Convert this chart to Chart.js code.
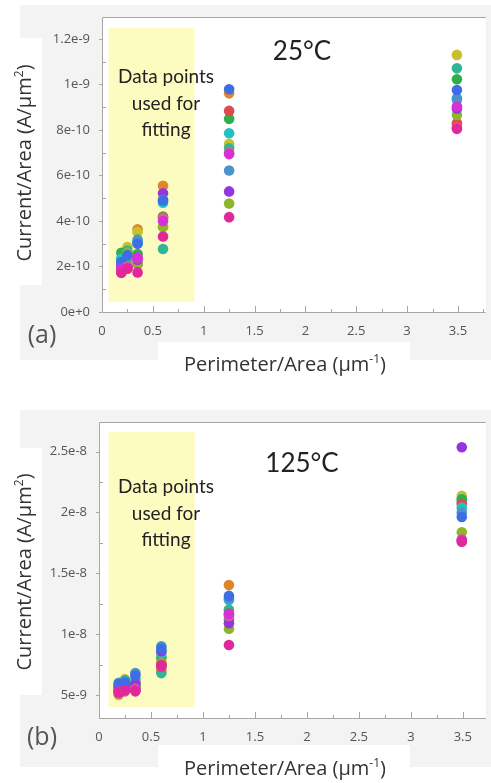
<!DOCTYPE html>
<html>
<head>
<meta charset="utf-8">
<script src="https://cdn.jsdelivr.net/npm/chart.js@4.4.1/dist/chart.umd.min.js"></script>
<style>
  html, body { margin: 0; padding: 0; background: #fff; }
  #page { position: relative; width: 491px; height: 783px; overflow: hidden; }
  .panel { position: absolute; left: 0; width: 491px; }
  .shade { position: absolute; background: #f3f3f3; }
  .whitebox { position: absolute; background: #fff; }
  .panel canvas { position: absolute; left: 0; top: 0; }
  .txt { position: absolute; transform: translate(-50%, -50%); white-space: nowrap; }
  .temp { font-family: Lato, sans-serif; font-size: 26px; color: #222; }
  .fit { font-family: Lato, sans-serif; font-size: 19px; line-height: 26.5px; color: #222; text-align: center; }
  .axtitle { font-family: "Open Sans", sans-serif; font-size: 20px; color: #333; }
  .ytitle { transform: translate(-50%, -50%) rotate(-90deg); }
  .tag { font-family: "Open Sans", sans-serif; font-size: 25px; color: #555; }
  .sup { font-size: 0.6em; position: relative; top: -0.65em; }
</style>
</head>
<body>
<div id="page">
  <div class="panel" style="top:0; height:390px;">
    <div class="shade" style="left:20px; top:5px; width:471px; height:355px;"></div>
    <div class="whitebox" style="left:0; top:38px; width:42px; height:247px;"></div>
    <div class="whitebox" style="left:158px; top:342px; width:252px; height:48px;"></div>
    <canvas id="chartA" width="491" height="390"></canvas>
    <div class="txt temp" style="left:302px; top:50px;">25°C</div>
    <div class="txt fit" style="left:166px; top:103px;">Data points<br>used for<br>fitting</div>
    <div class="txt axtitle ytitle" style="left:23px; top:163px;">Current/Area (A/µm<span class="sup">2</span>)</div>
    <div class="txt axtitle" style="left:285px; top:363px;">Perimeter/Area (µm<span class="sup">-1</span>)</div>
    <div class="txt tag" style="left:42px; top:333px;">(a)</div>
  </div>
  <div class="panel" style="top:390px; height:393px;">
    <div class="shade" style="left:20px; top:20px; width:471px; height:357px;"></div>
    <div class="whitebox" style="left:0; top:58px; width:42px; height:247px;"></div>
    <div class="whitebox" style="left:158px; top:355px; width:252px; height:38px;"></div>
    <canvas id="chartB" width="491" height="393"></canvas>
    <div class="txt temp" style="left:302px; top:72px;">125°C</div>
    <div class="txt fit" style="left:166px; top:123px;">Data points<br>used for<br>fitting</div>
    <div class="txt axtitle ytitle" style="left:23px; top:182px;">Current/Area (A/µm<span class="sup">2</span>)</div>
    <div class="txt axtitle" style="left:285px; top:377px;">Perimeter/Area (µm<span class="sup">-1</span>)</div>
    <div class="txt tag" style="left:42px; top:345px;">(b)</div>
  </div>
</div>
<script>
/* ---- data ---- */
// perimeter/area of the test structures (um^-1)
const perimArea = [0.19, 0.25, 0.35, 0.6, 1.25, 3.49];

// current/area (A/um^2) per device, 25 C then 125 C
const orange25   = [2.05e-10, 2.3e-10, 3.64e-10, 5.55e-10, 9.61e-10, 8.22e-10];
const orange125  = [5.3e-9, 5.7e-9, 6.1e-9, 7.0e-9, 1.404e-8, 2.08e-8];
const yellow25   = [2.0e-10, 2.86e-10, 3.51e-10, 3.72e-10, 7.39e-10, 1.13e-9];
const yellow125  = [5.0e-9, 6.3e-9, 5.8e-9, 7.9e-9, 1.199e-8, 2.136e-8];
const teal25     = [2.3e-10, 2.7e-10, 3.06e-10, 2.77e-10, 7.2e-10, 1.071e-9];
const teal125    = [5.5e-9, 5.9e-9, 5.7e-9, 6.8e-9, 1.2e-8, 2.11e-8];
const green25    = [2.6e-10, 2.45e-10, 2.55e-10, 4.2e-10, 8.49e-10, 1.023e-9];
const green125   = [5.6e-9, 6.0e-9, 5.9e-9, 8.1e-9, 1.12e-8, 2.103e-8];
const red25      = [1.85e-10, 1.95e-10, 2.1e-10, 4.15e-10, 8.84e-10, 8.3e-10];
const red125     = [5.4e-9, 5.5e-9, 5.6e-9, 7.3e-9, 1.17e-8, 2.07e-8];
const cyan25     = [2.35e-10, 2.4e-10, 3.1e-10, 4.8e-10, 7.86e-10, 9.32e-10];
const cyan125    = [5.8e-9, 6.1e-9, 6.3e-9, 8.4e-9, 1.281e-8, 2.04e-8];
const lime25     = [2.1e-10, 2.6e-10, 2.1e-10, 3.75e-10, 4.77e-10, 8.66e-10];
const lime125    = [5.2e-9, 5.8e-9, 5.5e-9, 7.6e-9, 1.045e-8, 1.837e-8];
const purple25   = [2.05e-10, 2.0e-10, 2.3e-10, 5.22e-10, 5.3e-10, 8.95e-10];
const purple125  = [5.7e-9, 5.6e-9, 5.9e-9, 8.6e-9, 1.089e-8, 2.536e-8];
const steel25    = [2.15e-10, 2.48e-10, 3.18e-10, 4.93e-10, 6.22e-10, 9.4e-10];
const steel125   = [6.0e-9, 6.2e-9, 6.8e-9, 9.0e-9, 1.29e-8, 2.0e-8];
const blue25     = [2.2e-10, 2.5e-10, 3.0e-10, 4.9e-10, 9.79e-10, 9.76e-10];
const blue125    = [5.9e-9, 6.0e-9, 6.6e-9, 8.8e-9, 1.314e-8, 1.963e-8];
const rose25     = [1.74e-10, 2.0e-10, 2.37e-10, 4.13e-10, 7.0e-10, 8.1e-10];
const rose125    = [5.1e-9, 5.3e-9, 5.5e-9, 7.5e-9, 1.15e-8, 1.78e-8];
const magenta25  = [1.9e-10, 1.93e-10, 2.4e-10, 4.0e-10, 6.94e-10, 9.03e-10];
const magenta125 = [5.3e-9, 5.4e-9, 5.4e-9, 7.4e-9, 1.163e-8, 1.77e-8];
const pink25     = [1.72e-10, 1.9e-10, 1.74e-10, 3.32e-10, 4.17e-10, 8.05e-10];
const pink125    = [5.2e-9, 5.4e-9, 5.3e-9, 7.45e-9, 9.11e-9, 1.76e-8];

// axis ticks
const xMajor = [0, 0.5, 1, 1.5, 2, 2.5, 3, 3.5];
const xLabels = ['0', '0.5', '1', '1.5', '2', '2.5', '3', '3.5'];
const yMajorA = [0, 2e-10, 4e-10, 6e-10, 8e-10, 1e-9, 1.2e-9];
const yLabelsA = ['0e+0', '2e-10', '4e-10', '6e-10', '8e-10', '1e-9', '1.2e-9'];
const yMajorB = [5e-9, 1e-8, 1.5e-8, 2e-8, 2.5e-8];
const yLabelsB = ['5e-9', '1e-8', '1.5e-8', '2e-8', '2.5e-8'];

// shaded "used for fitting" region [xmin, xmax, ymin, ymax]
const fitBoxA = [0.065, 0.91, 0.44e-10, 1.248e-9];
const fitBoxB = [0.092, 0.92, 4.0e-9, 2.66e-8];

/* ---- series / colours ---- */
const seriesA = [orange25, yellow25, teal25, green25, red25, cyan25, lime25, purple25, steel25, blue25, rose25, magenta25, pink25];
const seriesB = [orange125, yellow125, teal125, green125, red125, cyan125, lime125, purple125, steel125, blue125, rose125, magenta125, pink125];
const colors = ['#e0862a', '#c8c12c', '#31b598', '#2fae4c', '#df4a4e', '#25c0c4', '#8fb52a',
                '#9535dd', '#4a94c8', '#3d6ee6', '#e0608c', '#d630d6', '#e0289b'];

const LINE = '#a6a6a6';

function withMinors(majors, max) {
  const out = [];
  majors.forEach((v, i) => {
    out.push(v);
    const step = i < majors.length - 1 ? majors[i + 1] - v : v - majors[i - 1];
    const mid = v + step / 2;
    if (mid <= max) out.push(mid);
  });
  return out;
}

function labelFor(majors, labels, v) {
  const tol = Math.abs(majors[1] - majors[0]) * 1e-3;
  const i = majors.findIndex(m => Math.abs(m - v) < tol);
  return i >= 0 ? labels[i] : '';
}

const decorPlugin = {
  id: 'decor',
  beforeDraw(chart, args, opts) {
    const { ctx, chartArea: a, scales: { x, y } } = chart;
    ctx.save();
    ctx.fillStyle = '#fff';
    ctx.fillRect(a.left, a.top, a.right - a.left, a.bottom - a.top);
    const b = opts.box;
    const x0 = x.getPixelForValue(b[0]), x1 = x.getPixelForValue(b[1]);
    const y0 = y.getPixelForValue(b[3]), y1 = y.getPixelForValue(b[2]);
    ctx.fillStyle = '#fdfcc0';
    ctx.fillRect(x0, y0, x1 - x0, y1 - y0);
    ctx.restore();
  },
  afterDraw(chart, args, opts) {
    const { ctx, chartArea: a, scales: { x, y } } = chart;
    ctx.save();
    ctx.strokeStyle = LINE;
    ctx.lineWidth = 1;
    ctx.beginPath();
    ctx.moveTo(a.right, a.top + 0.5); ctx.lineTo(a.left + 0.5, a.top + 0.5);
    ctx.lineTo(a.left + 0.5, a.bottom + 0.5); ctx.lineTo(a.right, a.bottom + 0.5);
    // x ticks (inward)
    x.ticks.forEach(t => {
      const px = Math.round(x.getPixelForValue(t.value)) + 0.5;
      const len = t.label ? 6 : 3;
      ctx.moveTo(px, a.bottom); ctx.lineTo(px, a.bottom - len);
    });
    // y ticks: majors outward, minors inward
    y.ticks.forEach(t => {
      const py = Math.round(y.getPixelForValue(t.value)) + 0.5;
      if (t.label) { ctx.moveTo(a.left - 3, py); ctx.lineTo(a.left, py); }
      else { ctx.moveTo(a.left, py); ctx.lineTo(a.left + 4, py); }
    });
    ctx.stroke();
    ctx.restore();
  }
};

function makeChart(id, series, xMax, yMin, yMax, yMajor, yLabels, box, pad) {
  const datasets = series.map((vals, i) => ({
    data: vals.map((v, j) => ({ x: perimArea[j], y: v })),
    backgroundColor: colors[i],
    borderWidth: 0,
    pointRadius: 5.3,
    order: series.length - i,
  }));
  const tickFont = { family: '"Open Sans", sans-serif', size: 13 };
  return new Chart(document.getElementById(id), {
    type: 'scatter',
    data: { datasets },
    options: {
      responsive: false,
      animation: false,
      devicePixelRatio: 1,
      layout: { padding: pad },
      plugins: { legend: { display: false }, tooltip: { enabled: false }, decor: { box } },
      scales: {
        x: {
          type: 'linear', min: 0, max: xMax,
          grid: { display: false }, border: { display: false },
          afterBuildTicks: s => { s.ticks = withMinors(xMajor, xMax).map(v => ({ value: v })); },
          afterFit: s => { s.height = 30; },
          ticks: {
            autoSkip: false, maxRotation: 0, padding: 3, color: '#555', font: tickFont,
            callback: v => labelFor(xMajor, xLabels, v),
          },
        },
        y: {
          type: 'linear', min: yMin, max: yMax,
          grid: { display: false }, border: { display: false },
          afterBuildTicks: s => { s.ticks = withMinors(yMajor, yMax).filter(v => v >= yMin).map(v => ({ value: v })); },
          afterFit: s => { s.width = 60; },
          ticks: {
            autoSkip: false, padding: 4, color: '#555', font: tickFont,
            callback: v => labelFor(yMajor, yLabels, v),
          },
        },
      },
    },
    plugins: [decorPlugin],
  });
}

makeChart('chartA', seriesA, 3.773, 0, 1.2967e-9, yMajorA, yLabelsA, fitBoxA,
  { left: 42, top: 17, right: 0, bottom: 48 });
makeChart('chartB', seriesB, 3.72, 3.11e-9, 2.743e-8, yMajorB, yLabelsB, fitBoxB,
  { left: 39, top: 32, right: 0, bottom: 35 });
</script>
</body>
</html>
